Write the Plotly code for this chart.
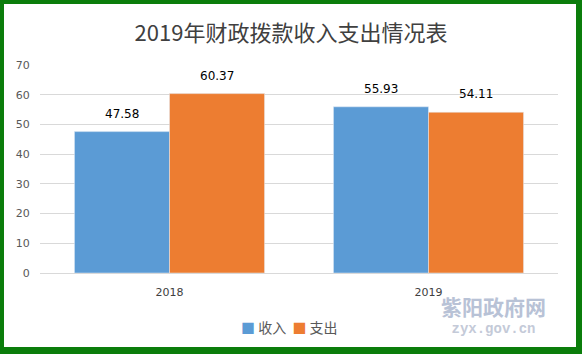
import plotly.graph_objects as go

years = ["2018", "2019"]
income = [47.58, 55.93]
expense = [60.37, 54.11]
series_names = ["收入", "支出"]
colors = ["#5b9bd5", "#ed7d31"]
title_text = "2019年财政拨款收入支出情况表"
watermark_cn = "紫阳政府网"
watermark_url = "zyx.gov.cn"

W, H = 582, 354
L, R, T, B = 40, 24, 65, 81
pw, ph = W - L - R, H - T - B

def px_x(x):
    return (x - L) / pw

def px_y(y):
    return (H - B - y) / ph

fig = go.Figure()
for name, vals, col in zip(series_names, [income, expense], colors):
    fig.add_trace(go.Bar(x=years, y=vals, name=name, marker_color=col, showlegend=False))

annotations = []
# data labels
for vals, shift in [(income, -47.5), (expense, 47.5)]:
    for i, v in enumerate(vals):
        annotations.append(dict(text=f"{v:.2f}", x=i, y=v, xref="x", yref="y",
                                xshift=shift, yshift=18, showarrow=False,
                                xanchor="center", yanchor="middle",
                                font=dict(family="DejaVu Sans", size=12, color="#000000")))

# custom legend
legend_text = "  ".join(
    f"<span style='color:{c}'>■</span> {n}" for n, c in zip(series_names, colors))
annotations.append(dict(text=legend_text, xref="paper", yref="paper", x=px_x(289), y=px_y(327),
                        xanchor="center", yanchor="middle", showarrow=False,
                        font=dict(family="Noto Sans CJK SC", size=14, color="#595959")))

# watermark (two lines in one text block)
wm_text = (f"<span style='font-size:21px;font-weight:bold;color:#b8c2d6'>{watermark_cn}</span><br>"
           f"<span style='font-family:Liberation Mono;font-size:14px;font-weight:bold;color:#c4cad8'>{watermark_url}</span>")
annotations.append(dict(text=wm_text, xref="paper", yref="paper", x=px_x(493), y=px_y(314),
                        xanchor="center", yanchor="middle", showarrow=False, align="center",
                        font=dict(family="Noto Sans CJK SC", size=14, color="#b8c2d6")))

fig.update_layout(
    width=W, height=H,
    margin=dict(l=L, r=R, t=T, b=B, pad=0),
    paper_bgcolor="#0b7d0b",
    plot_bgcolor="#ffffff",
    font=dict(family="DejaVu Sans, Noto Sans CJK SC", color="#595959", size=11),
    barmode="group", bargap=0.266, bargroupgap=0,
    showlegend=False,
    title=dict(text=title_text, x=0.5, xanchor="center", y=1 - 33 / H, yanchor="middle",
               font=dict(family="Noto Sans CJK SC", size=22, color="#404040")),
    xaxis=dict(type="category", showgrid=False, showline=True, linecolor="#d9d9d9", linewidth=1,
               ticks="outside", ticklen=9, tickcolor="rgba(0,0,0,0)",
               tickfont=dict(size=11, color="#404040")),
    yaxis=dict(range=[0, 70], dtick=10, showgrid=True, gridcolor="#d9d9d9", gridwidth=1,
               zeroline=False, showline=False, ticks="outside", ticklen=7,
               tickcolor="rgba(0,0,0,0)",
               tickfont=dict(size=11, color="#595959")),
    shapes=[dict(type="rect", xref="paper", yref="paper",
                 x0=px_x(4), x1=px_x(576), y0=px_y(347), y1=px_y(4),
                 fillcolor="#ffffff", line=dict(width=0), layer="below")],
    annotations=annotations,
)

fig.write_html("out.html")
